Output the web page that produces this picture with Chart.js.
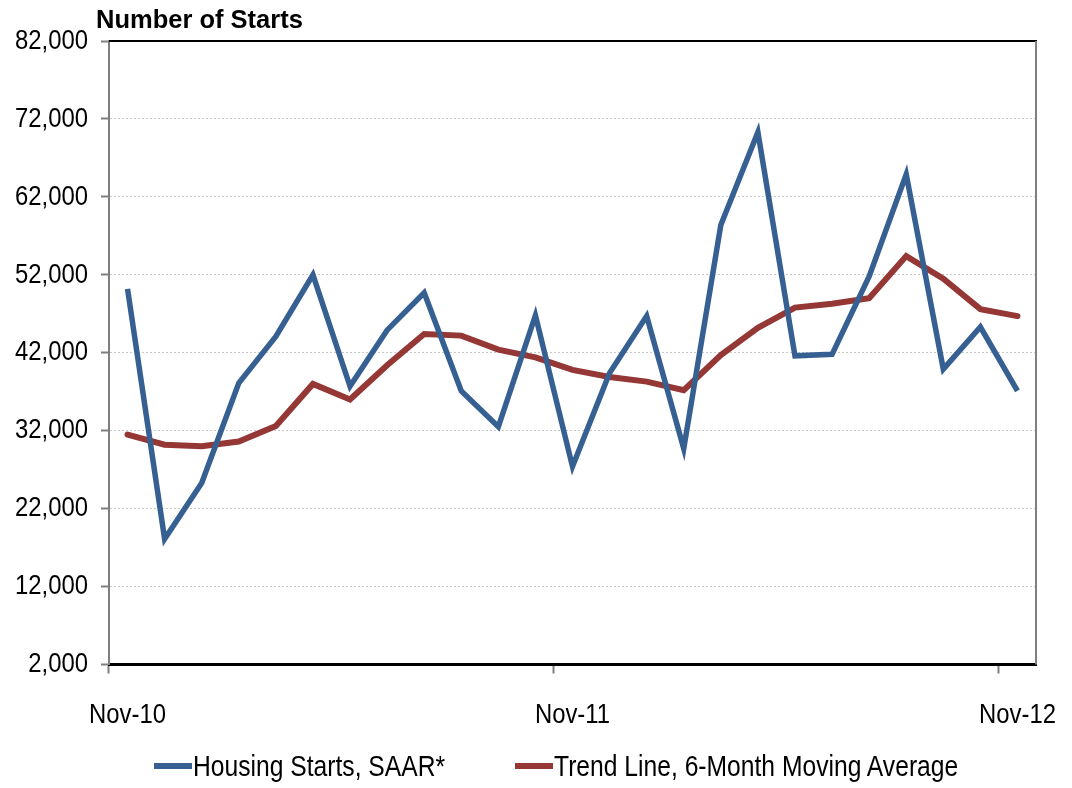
<!DOCTYPE html>
<html>
<head>
<meta charset="utf-8">
<script src="https://cdn.jsdelivr.net/npm/chart.js@4.4.1/dist/chart.umd.min.js"></script>
<style>
  html, body { margin: 0; padding: 0; background: #ffffff; }
  #wrap { position: relative; width: 1072px; height: 788px; overflow: hidden; }
  #c { position: absolute; left: 0; top: 0; }
  #title { position: absolute; left: 96px; top: 6px; font-family: "Liberation Sans", Arial, sans-serif; font-weight: bold; font-size: 25.5px; line-height: 26px; color: #000; white-space: nowrap; }
  .leg { position: absolute; top: 751px; height: 30px; display: flex; align-items: center; white-space: nowrap; font-family: "Liberation Sans", Arial, sans-serif; font-size: 29px; color: #000; }
  .sw { display: inline-block; width: 38px; height: 6px; margin-right: 1px; }
  .lt { display: inline-block; transform: scaleX(0.85); transform-origin: left center; }
</style>
</head>
<body>
<div id="wrap">
  <canvas id="c" width="1072" height="788"></canvas>
  <div id="title">Number of Starts</div>
  <div class="leg" id="leg1" style="left:154px"><span class="sw" id="sw1"></span><span class="lt" id="lt1"></span></div>
  <div class="leg" id="leg2" style="left:515px"><span class="sw" id="sw2"></span><span class="lt" id="lt2"></span></div>
</div>
<script>
const months = ['Nov-10','Dec-10','Jan-11','Feb-11','Mar-11','Apr-11','May-11','Jun-11','Jul-11','Aug-11','Sep-11','Oct-11','Nov-11','Dec-11','Jan-12','Feb-12','Mar-12','Apr-12','May-12','Jun-12','Jul-12','Aug-12','Sep-12','Oct-12','Nov-12'];
const housingStarts = [50200, 18100, 25300, 38100, 44100, 52000, 37700, 44900, 49700, 37100, 32500, 46800, 27400, 39400, 46700, 29700, 58400, 70300, 41600, 41800, 51800, 64900, 39900, 45300, 37100];
const trendLine = [31500, 30200, 30000, 30600, 32600, 38000, 36000, 40400, 44400, 44200, 42400, 41400, 39800, 38900, 38300, 37200, 41700, 45200, 47800, 48300, 49000, 54400, 51500, 47600, 46700];
const seriesNames = ['Housing Starts, SAAR*', 'Trend Line, 6-Month Moving Average'];
const yTicks = [2000, 12000, 22000, 32000, 42000, 52000, 62000, 72000, 82000];
const shownLabelEvery = 12;

const BLUE = '#376092';
const RED = '#953735';
const TICK_SIZE = 28;
const NARROW = 0.853;
const tickFont = { family: '"Liberation Sans", Arial, sans-serif', size: TICK_SIZE };

document.getElementById('sw1').style.background = BLUE;
document.getElementById('sw2').style.background = RED;
document.getElementById('lt1').textContent = seriesNames[0];
document.getElementById('lt2').textContent = seriesNames[1];

// Draw the axis tick labels slightly condensed (narrow face look)
const canvas = document.getElementById('c');
const ctx2d = canvas.getContext('2d');
const origFill = CanvasRenderingContext2D.prototype.fillText;
ctx2d.fillText = function (t, x, y, mw) {
  if (this.font.indexOf(TICK_SIZE + 'px') >= 0) {
    this.save();
    this.translate(x, y);
    this.scale(NARROW, 1);
    origFill.call(this, t, 0, 0);
    this.restore();
  } else {
    origFill.call(this, t, x, y, mw);
  }
};

const framePlugin = {
  id: 'frame',
  afterDraw(chart) {
    const a = chart.chartArea, ctx = chart.ctx;
    ctx.save();
    ctx.lineWidth = 2;
    ctx.strokeStyle = '#000000';
    ctx.beginPath(); ctx.moveTo(a.left, a.top); ctx.lineTo(a.right + 1, a.top); ctx.stroke();
    ctx.strokeStyle = '#7f7f7f';
    ctx.beginPath(); ctx.moveTo(a.right, a.top); ctx.lineTo(a.right, a.bottom); ctx.stroke();
    ctx.restore();
  }
};

new Chart(canvas, {
  type: 'line',
  data: {
    labels: months,
    datasets: [
      { label: seriesNames[0], data: housingStarts, borderColor: BLUE, backgroundColor: BLUE, borderWidth: 5.5, pointRadius: 0, tension: 0, borderJoinStyle: 'miter', borderCapStyle: 'butt' },
      { label: seriesNames[1], data: trendLine, borderColor: RED, backgroundColor: RED, borderWidth: 6, pointRadius: 0, tension: 0, borderJoinStyle: 'miter', borderCapStyle: 'round' }
    ]
  },
  options: {
    responsive: false,
    animation: false,
    devicePixelRatio: 1,
    layout: { padding: { left: 0, top: 41, right: 36, bottom: 0 } },
    plugins: { legend: { display: false }, tooltip: { enabled: false }, title: { display: false } },
    scales: {
      x: {
        type: 'category',
        offset: true,
        afterFit: s => { s.height = 788 - 664.5; s.paddingLeft = 0; s.paddingRight = 0; },
        grid: {
          offset: true,
          drawOnChartArea: false,
          drawTicks: true,
          tickLength: 9,
          tickWidth: 2,
          tickColor: ctx => (ctx.index % shownLabelEvery === 0 ? '#7f7f7f' : 'rgba(0,0,0,0)')
        },
        border: { display: true, color: '#000000', width: 3 },
        ticks: {
          autoSkip: false,
          maxRotation: 0,
          minRotation: 0,
          padding: 25,
          color: '#000000',
          font: tickFont,
          callback: (v, i) => (i % shownLabelEvery === 0 ? months[i] : '')
        }
      },
      y: {
        min: yTicks[0],
        max: yTicks[yTicks.length - 1],
        afterFit: s => { s.width = 109; },
        afterBuildTicks: s => { s.ticks = yTicks.map(v => ({ value: v })); },
        grid: {
          color: ctx => (ctx.index === 0 || ctx.index === yTicks.length - 1 ? 'rgba(0,0,0,0)' : '#c8c8c8'),
          lineWidth: 1,
          drawTicks: true,
          tickLength: 8,
          tickWidth: 2,
          tickColor: '#7f7f7f'
        },
        border: { display: true, color: '#7f7f7f', width: 2, dash: [2, 2] },
        ticks: {
          padding: 13,
          color: '#000000',
          font: tickFont,
          callback: v => Number(v).toLocaleString('en-US')
        }
      }
    }
  },
  plugins: [framePlugin]
});
</script>
</body>
</html>
